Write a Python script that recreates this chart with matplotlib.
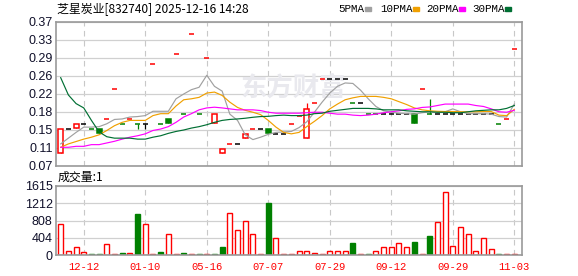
import matplotlib
matplotlib.use("Agg")
import matplotlib.pyplot as plt
from matplotlib.patches import Rectangle
import numpy as np

# -----------------------------
# Data
# -----------------------------
title = "芝星炭业[832740] 2025-12-16 14:28"
vol_title = "成交量:1"
legend_names = ["5PMA", "10PMA", "20PMA", "30PMA"]

date_idx = [3, 11, 19, 27, 35, 43, 51, 59]
date_labels = ["12-12", "01-10", "05-16", "07-07", "07-29", "09-12", "09-29", "11-03"]

price_ticks = [0.07, 0.1075, 0.145, 0.1825, 0.22, 0.2575, 0.295, 0.3325, 0.37]
price_labels = ["0.07", "0.11", "0.15", "0.18", "0.22", "0.26", "0.29", "0.33", "0.37"]
vol_ticks = [0, 403.75, 807.5, 1211.25, 1615]
vol_labels = ["0", "404", "808", "1212", "1615"]

opens = [0.097, 0.147, 0.149, 0.157, 0.147, 0.148, 0.168, 0.231, 0.158, 0.168,
         0.157, 0.157, 0.283, 0.158, 0.168, 0.304, 0.179, 0.346, 0.179, 0.294,
         0.160, 0.097, 0.116, 0.116, 0.129, 0.147, 0.147, 0.147, 0.137, 0.137,
         0.158, 0.175, 0.129, 0.201, 0.252, 0.252, 0.252, 0.252, 0.201, 0.201,
         0.179, 0.179, 0.179, 0.179, 0.179, 0.179, 0.179, 0.231, 0.179, 0.178,
         0.178, 0.179, 0.179, 0.179, 0.179, 0.179, 0.179, 0.158, 0.168, 0.314]
closes = [0.147, 0.147, 0.158, 0.157, 0.147, 0.138, 0.168, 0.231, 0.158, 0.168,
          0.157, 0.157, 0.283, 0.158, 0.159, 0.304, 0.179, 0.346, 0.179, 0.294,
          0.179, 0.106, 0.116, 0.116, 0.137, 0.147, 0.147, 0.138, 0.137, 0.137,
          0.158, 0.175, 0.189, 0.201, 0.252, 0.252, 0.252, 0.252, 0.201, 0.201,
          0.179, 0.179, 0.179, 0.179, 0.179, 0.179, 0.159, 0.231, 0.179, 0.178,
          0.178, 0.179, 0.179, 0.179, 0.179, 0.179, 0.179, 0.158, 0.168, 0.314]
highs = [0.147, 0.147, 0.158, 0.157, 0.147, 0.148, 0.168, 0.231, 0.158, 0.168,
         0.157, 0.157, 0.283, 0.158, 0.168, 0.304, 0.179, 0.346, 0.179, 0.294,
         0.179, 0.106, 0.116, 0.116, 0.137, 0.147, 0.147, 0.147, 0.137, 0.137,
         0.158, 0.175, 0.201, 0.201, 0.252, 0.252, 0.252, 0.252, 0.201, 0.201,
         0.179, 0.179, 0.179, 0.179, 0.179, 0.179, 0.179, 0.231, 0.210, 0.178,
         0.178, 0.179, 0.179, 0.179, 0.179, 0.179, 0.179, 0.158, 0.168, 0.314]
lows = [0.097, 0.147, 0.149, 0.157, 0.147, 0.138, 0.168, 0.231, 0.158, 0.168,
        0.148, 0.148, 0.283, 0.158, 0.159, 0.304, 0.179, 0.346, 0.179, 0.294,
        0.160, 0.097, 0.116, 0.116, 0.129, 0.147, 0.147, 0.138, 0.137, 0.137,
        0.158, 0.175, 0.129, 0.201, 0.252, 0.252, 0.252, 0.252, 0.201, 0.201,
        0.179, 0.179, 0.179, 0.179, 0.179, 0.179, 0.159, 0.231, 0.179, 0.178,
        0.178, 0.179, 0.179, 0.179, 0.179, 0.179, 0.179, 0.158, 0.168, 0.314]
candle_dir = ["r", "k", "r", "k", "g", "g", "r", "r", "g", "r",
              "g", "k", "r", "g", "g", "r", "g", "r", "g", "r",
              "r", "r", "r", "k", "r", "r", "k", "g", "k", "k",
              "r", "r", "r", "r", "r", "k", "k", "k", "g", "k",
              "g", "g", "k", "k", "k", "k", "g", "r", "g", "k",
              "k", "k", "k", "k", "k", "k", "k", "g", "r", "r"]

ma5 = [0.116, 0.128, 0.140, 0.151, 0.151, 0.152, 0.158, 0.167, 0.168, 0.172,
       0.173, 0.175, 0.184, 0.184, 0.184, 0.210, 0.220, 0.229, 0.234, 0.259,
       0.236, 0.226, 0.178, 0.165, 0.135, 0.125, 0.130, 0.136, 0.140, 0.141,
       0.142, 0.150, 0.162, 0.182, 0.203, 0.222, 0.236, 0.243, 0.242, 0.228,
       0.210, 0.194, 0.185, 0.182, 0.180, 0.179, 0.178, 0.181, 0.183, 0.182,
       0.183, 0.189, 0.183, 0.179, 0.179, 0.179, 0.178, 0.173, 0.172, 0.199]
ma10 = [0.109, 0.116, 0.121, 0.126, 0.130, 0.135, 0.144, 0.154, 0.161, 0.165,
        0.165, 0.165, 0.175, 0.179, 0.179, 0.195, 0.208, 0.210, 0.213, 0.222,
        0.224, 0.217, 0.203, 0.192, 0.186, 0.182, 0.177, 0.165, 0.151, 0.140,
        0.137, 0.140, 0.152, 0.163, 0.175, 0.189, 0.199, 0.208, 0.212, 0.215,
        0.215, 0.215, 0.213, 0.210, 0.204, 0.198, 0.191, 0.187, 0.185, 0.184,
        0.1835, 0.1835, 0.183, 0.183, 0.183, 0.1835, 0.1835, 0.176, 0.175, 0.188]
ma20 = [0.109, 0.109, 0.111, 0.111, 0.1145, 0.1145, 0.118, 0.1215, 0.126, 0.130,
        0.133, 0.137, 0.144, 0.147, 0.152, 0.161, 0.172, 0.179, 0.187, 0.191,
        0.1925, 0.191, 0.189, 0.187, 0.187, 0.187, 0.1855, 0.182, 0.180, 0.180,
        0.180, 0.180, 0.181, 0.182, 0.182, 0.180, 0.178, 0.178, 0.176, 0.175,
        0.176, 0.178, 0.181, 0.183, 0.185, 0.188, 0.189, 0.192, 0.193, 0.196,
        0.199, 0.199, 0.199, 0.199, 0.196, 0.194, 0.189, 0.183, 0.182, 0.186]
ma30 = [0.254, 0.218, 0.200, 0.191, 0.165, 0.141, 0.131, 0.128, 0.128, 0.128,
        0.126, 0.126, 0.130, 0.133, 0.138, 0.142, 0.145, 0.149, 0.152, 0.156,
        0.161, 0.165, 0.167, 0.168, 0.1695, 0.1715, 0.173, 0.1735, 0.175, 0.176,
        0.175, 0.175, 0.176, 0.179, 0.180, 0.184, 0.186, 0.188, 0.190, 0.190,
        0.190, 0.189, 0.187, 0.187, 0.187, 0.185, 0.184, 0.183, 0.183, 0.182,
        0.182, 0.181, 0.181, 0.183, 0.185, 0.186, 0.187, 0.187, 0.190, 0.196]

vol = [722, 93, 178, 62, 20, 20, 248, 20, 45, 45,
       962, 722, 20, 70, 481, 20, 45, 20, 20, 20,
       20, 186, 978, 574, 792, 481, 20, 1211, 388, 20,
       20, 85, 85, 45, 20, 85, 85, 85, 280, 20,
       20, 85, 178, 178, 272, 178, 303, 20, 442, 784,
       1482, 202, 644, 481, 85, 388, 132, 20, 20, 20]
vol_dir = ["r", "r", "r", "r", "g", "g", "r", "r", "g", "r",
           "g", "r", "r", "g", "r", "r", "g", "r", "g", "r",
           "g", "g", "r", "r", "r", "r", "r", "g", "r", "r",
           "r", "r", "r", "r", "r", "r", "r", "r", "g", "r",
           "g", "r", "r", "r", "r", "r", "g", "r", "g", "r",
           "r", "r", "r", "r", "r", "r", "r", "g", "r", "r"]

# -----------------------------
# Styling
# -----------------------------
RED, GREEN, BLACK = "#ff0000", "#008000", "#000000"
edge_col = {"r": RED, "g": GREEN, "k": BLACK}
face_col = {"r": "white", "g": GREEN, "k": BLACK}
ma_colors = ["#a0a0a0", "#f0a000", "#ff00ff", "#006f33"]
SPINE = "#999999"
W, H = 578, 276

plt.rcParams["font.family"] = ["Noto Sans CJK SC", "DejaVu Sans"]

fig = plt.figure(figsize=(W / 100, H / 100), dpi=100)
ax = fig.add_axes([56 / W, 1 - 166 / H, 466 / W, 144 / H])
axv = fig.add_axes([56 / W, 1 - 255 / H, 466 / W, 69 / H])

x = np.arange(len(opens))
bw = 0.65

# -----------------------------
# Price panel
# -----------------------------
bottoms = np.minimum(opens, closes)
heights = np.abs(np.array(closes) - np.array(opens))
ax.vlines(x, lows, highs, colors=[edge_col[d] for d in candle_dir], lw=0.9, zorder=2)
ax.bar(x, heights, bottom=bottoms, width=bw,
       color=[face_col[d] for d in candle_dir],
       edgecolor=[edge_col[d] for d in candle_dir], linewidth=1.1, zorder=2.5)

for ma, c in zip([ma5, ma10, ma20, ma30], ma_colors):
    ax.plot(x, ma, color=c, lw=0.85, zorder=3)

ax.text(0.395, 0.54, "东方财富", transform=ax.transAxes, fontsize=19,
        fontweight="bold", color="#e9e9ee", va="center", ha="left", zorder=0.6)

ax.set_xlim(-0.61, 60.0)
ax.set_ylim(0.07, 0.37)
ax.set_yticks(price_ticks)
ax.set_yticklabels(price_labels)
ax.set_xticks(date_idx)
ax.set_xticklabels([])

# -----------------------------
# Volume panel
# -----------------------------
axv.bar(x, vol, width=bw, color=[face_col[d] for d in vol_dir],
        edgecolor=[edge_col[d] for d in vol_dir], linewidth=1.0, zorder=2)
axv.set_xlim(-0.61, 60.0)
axv.set_ylim(0, 1615)
axv.set_yticks(vol_ticks)
axv.set_yticklabels(vol_labels)
axv.set_xticks(date_idx)
axv.set_xticklabels(date_labels, family="Liberation Mono", fontsize=7.6, color=RED)

for a in (ax, axv):
    a.set_axisbelow(True)
    a.yaxis.grid(True, color="#d0d0d0", lw=0.9, ls="-")
    a.xaxis.grid(True, color="#c8c8c8", lw=0.8, ls=(0, (5, 4)))
    for s in a.spines.values():
        s.set_color(SPINE)
        s.set_linewidth(1.2)
    a.tick_params(length=0)
    a.tick_params(axis="y", pad=2.4)
    for lab in a.get_yticklabels():
        lab.set_family("Liberation Sans")
        lab.set_fontsize(9)
        lab.set_color("#10102a")
axv.tick_params(axis="x", pad=5)

# -----------------------------
# Header texts and legend
# -----------------------------
fig.text(57 / W, 1 - 9 / H, title, fontsize=8.6, va="center", ha="left")
fig.text(58 / W, 1 - 177 / H, vol_title, fontsize=8.6, va="center", ha="left")

leg_text_x = [338, 380, 426, 472]
leg_swatch_x = [365, 413, 459, 505]
for name, tx, sx, c in zip(legend_names, leg_text_x, leg_swatch_x, ma_colors):
    fig.text(tx / W, 1 - 9 / H, name, family="Liberation Mono", fontsize=7.8,
             va="center", ha="left")
    fig.patches.append(Rectangle((sx / W, 1 - 10.8 / H), 6 / W, 3.6 / H,
                                 transform=fig.transFigure, color=c))

fig.savefig("out.png", dpi=100)
